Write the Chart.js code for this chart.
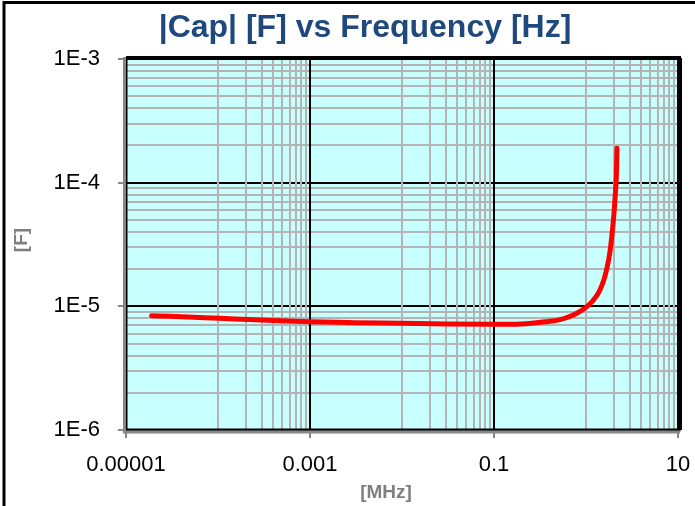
<!DOCTYPE html>
<html>
<head>
<meta charset="utf-8">
<title>|Cap| [F] vs Frequency [Hz]</title>
<script src="https://cdn.jsdelivr.net/npm/chart.js@4.4.1/dist/chart.umd.min.js"></script>
<style>
    html, body { margin: 0; padding: 0; background: #ffffff; }
    #capChart { display: block; }
</style>
</head>
<body>
<canvas id="capChart" width="695" height="506"></canvas>
<script>
// measured capacitance magnitude against frequency
const freqMHz = [1.9e-5, 3e-5, 1.04e-4, 3e-4, 1e-3, 3e-3, 9.3e-3, 0.03, 0.1, 0.2, 0.364, 0.52, 0.707,
    0.87, 1.03, 1.2, 1.38, 1.55, 1.69, 1.82, 1.92, 2.02, 2.09, 2.14, 2.17];
const capF = [8.4e-6, 8.3e-6, 8.0e-6, 7.75e-6, 7.5e-6, 7.38e-6, 7.3e-6, 7.2e-6, 7.15e-6, 7.2e-6, 7.5e-6, 7.8e-6, 8.43e-6,
    9.16e-6, 1.0e-5, 1.12e-5, 1.305e-5, 1.6e-5, 2.04e-5, 2.75e-5, 3.84e-5, 5.78e-5, 8.4e-5, 1.15e-4, 1.9e-4];

// axis ticks
const xMajorTicks = [1e-5, 1e-3, 0.1, 10];
const xTickLabels = ['0.00001', '0.001', '0.1', '10'];
const yMajorTicks = [1e-6, 1e-5, 1e-4, 1e-3];
const yTickLabels = ['1E-6', '1E-5', '1E-4', '1E-3'];

const LABEL_FONT = '"Liberation Sans", Arial, sans-serif';
const TITLE_FONT = '"Liberation Sans Narrow", "Liberation Sans", Arial, sans-serif';
const GRID_MINOR = '#b4b4b4';
const AXIS_GRAY = '#868686';

function isMajor(list, v) {
    return list.some(m => Math.abs(Math.log10(m) - Math.log10(v)) < 1e-6);
}

// x gridlines: majors every two decades, minors at 1..9 x 10^n of the odd decades
function xTickValues() {
    const out = [];
    for (let i = 0; i < xMajorTicks.length; i++) {
        out.push(xMajorTicks[i]);
        if (i < xMajorTicks.length - 1) {
            const base = xMajorTicks[i] * 10;
            for (let k = 1; k <= 9; k++) out.push(base * k);
        }
    }
    return out;
}

// y gridlines: one decade per major, minors at 2..9
function yTickValues() {
    const out = [];
    for (let i = 0; i < yMajorTicks.length; i++) {
        out.push(yMajorTicks[i]);
        if (i < yMajorTicks.length - 1) {
            for (let k = 2; k <= 9; k++) out.push(yMajorTicks[i] * k);
        }
    }
    return out;
}

const plotFrame = {
    id: 'plotFrame',
    beforeDraw(chart) {
        const {ctx, chartArea: a} = chart;
        ctx.save();
        ctx.fillStyle = '#c8ffff';
        ctx.fillRect(a.left, a.top, a.right - a.left, a.bottom - a.top);
        ctx.restore();
    },
    afterDraw(chart) {
        const {ctx, chartArea: a} = chart;
        ctx.save();
        // plot area border
        ctx.strokeStyle = '#000';
        ctx.lineWidth = 3;
        ctx.strokeRect(a.left, a.top - 0.5, a.right - a.left + 1, a.bottom - a.top + 0.5);
        ctx.lineWidth = 2;
        ctx.beginPath();
        ctx.moveTo(a.left, a.top - 2);
        ctx.lineTo(a.right + 3, a.top - 2);
        ctx.moveTo(a.right + 3, a.top - 1);
        ctx.lineTo(a.right + 3, a.bottom);
        ctx.stroke();
        // gray axis lines
        ctx.strokeStyle = AXIS_GRAY;
        ctx.lineWidth = 3;
        ctx.beginPath();
        ctx.moveTo(a.left - 1.5, a.top - 2);
        ctx.lineTo(a.left - 1.5, a.bottom + 2);
        ctx.lineTo(a.right + 2, a.bottom + 2);
        ctx.stroke();
        // chart title
        ctx.fillStyle = '#1f497d';
        ctx.font = 'bold 32px ' + TITLE_FONT;
        ctx.textAlign = 'center';
        ctx.textBaseline = 'middle';
        ctx.fillText('|Cap| [F] vs Frequency [Hz]', 365, 28);
        // axis titles
        ctx.fillStyle = '#7f7f7f';
        ctx.font = 'bold 19px ' + LABEL_FONT;
        ctx.fillText('[MHz]', 386, 493);
        ctx.translate(22, 240);
        ctx.rotate(-Math.PI / 2);
        ctx.fillText('[F]', 0, 0);
        ctx.restore();
        // outer chart border
        ctx.save();
        ctx.strokeStyle = '#000';
        ctx.lineWidth = 3;
        ctx.beginPath();
        ctx.moveTo(4, 520);
        ctx.lineTo(4, 2.5);
        ctx.lineTo(700, 2.5);
        ctx.stroke();
        ctx.restore();
    }
};

const ctx = document.getElementById('capChart').getContext('2d');
const capChart = new Chart(ctx, {
    type: 'line',
    data: {
        datasets: [{
            label: '|Cap|',
            data: freqMHz.map((f, i) => ({x: f, y: capF[i]})),
            borderColor: '#ff0000',
            borderWidth: 5,
            borderCapStyle: 'round',
            borderJoinStyle: 'round',
            pointRadius: 0,
            fill: false,
            cubicInterpolationMode: 'monotone'
        }]
    },
    options: {
        responsive: false,
        animation: false,
        layout: { padding: { left: 0, right: 17, top: 59, bottom: 0 } },
        plugins: {
            legend: { display: false },
            tooltip: { enabled: false },
            title: { display: false }
        },
        scales: {
            x: {
                type: 'logarithmic',
                min: xMajorTicks[0],
                max: xMajorTicks[xMajorTicks.length - 1],
                afterBuildTicks: axis => {
                    axis.ticks = xTickValues().map(v => ({value: v}));
                },
                afterFit: axis => {
                    axis.height = 76;
                    axis.paddingLeft = 0;
                    axis.paddingRight = 0;
                },
                border: { display: false },
                grid: {
                    z: -1,
                    lineWidth: 2,
                    color: c => isMajor(xMajorTicks, c.tick.value) ? '#000' : GRID_MINOR,
                    tickColor: c => isMajor(xMajorTicks, c.tick.value) ? AXIS_GRAY : 'rgba(0,0,0,0)',
                    tickLength: 8,
                    tickWidth: 2
                },
                ticks: {
                    autoSkip: false,
                    maxRotation: 0,
                    padding: 14,
                    color: '#000',
                    font: { family: LABEL_FONT, size: 22 },
                    callback: v => {
                        const i = xMajorTicks.findIndex(m => Math.abs(Math.log10(m) - Math.log10(v)) < 1e-6);
                        return i >= 0 ? xTickLabels[i] : '';
                    }
                }
            },
            y: {
                type: 'logarithmic',
                min: yMajorTicks[0],
                max: yMajorTicks[yMajorTicks.length - 1],
                afterBuildTicks: axis => {
                    axis.ticks = yTickValues().map(v => ({value: v}));
                },
                afterFit: axis => {
                    axis.width = 126;
                    axis.paddingTop = 0;
                    axis.paddingBottom = 0;
                },
                border: { display: false },
                grid: {
                    z: -2,
                    lineWidth: 2,
                    color: c => isMajor(yMajorTicks, c.tick.value) ? '#000' : GRID_MINOR,
                    tickColor: c => isMajor(yMajorTicks, c.tick.value) ? AXIS_GRAY : 'rgba(0,0,0,0)',
                    tickLength: 8,
                    tickWidth: 2
                },
                ticks: {
                    autoSkip: false,
                    padding: 18,
                    color: '#000',
                    font: { family: LABEL_FONT, size: 22 },
                    callback: v => {
                        const i = yMajorTicks.findIndex(m => Math.abs(Math.log10(m) - Math.log10(v)) < 1e-6);
                        return i >= 0 ? yTickLabels[i] : '';
                    }
                }
            }
        }
    },
    plugins: [plotFrame]
});
</script>
</body>
</html>
